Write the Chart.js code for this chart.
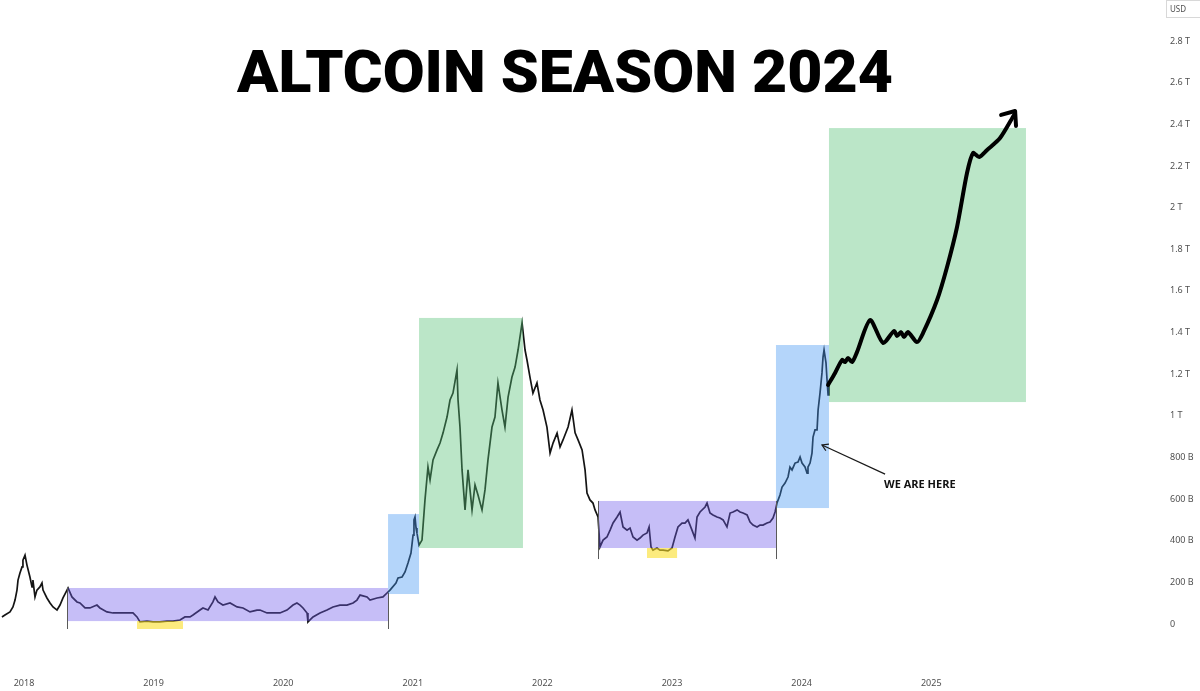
<!DOCTYPE html>
<html>
<head>
<meta charset="utf-8">
<script src="https://cdn.jsdelivr.net/npm/chart.js@4.4.1/dist/chart.umd.min.js"></script>
<style>
html,body{margin:0;padding:0;background:#fff;}
canvas{display:block;}
</style>
</head>
<body>
<canvas id="c" width="1200" height="691"></canvas>
<script>
// ---- Data (values in billions USD, x in decimal years) ----
const priceYears = [
2017.830,2017.853,2017.892,2017.915,2017.931,2017.946,2017.954,2017.969,2017.985,2017.992,
2018.008,2018.023,2018.046,2018.062,2018.069,2018.085,2018.100,2018.123,2018.139,2018.147,
2018.177,2018.201,2018.224,2018.255,2018.278,2018.301,2018.332,2018.340,2018.370,2018.409,
2018.432,2018.471,2018.509,2018.563,2018.586,2018.640,2018.687,2018.741,2018.795,2018.841,
2018.872,2018.895,2018.949,2018.995,2019.049,2019.103,2019.150,2019.204,2019.242,2019.281,
2019.304,2019.358,2019.381,2019.420,2019.458,2019.474,2019.497,2019.535,2019.590,2019.644,
2019.690,2019.744,2019.798,2019.821,2019.875,2019.921,2019.975,2020.029,2020.076,2020.106,
2020.130,2020.153,2020.184,2020.191,2020.230,2020.284,2020.338,2020.384,2020.438,2020.492,
2020.539,2020.569,2020.593,2020.647,2020.670,2020.724,2020.770,2020.801,2020.824,2020.870,
2020.886,2020.917,2020.940,2020.963,2020.986,2021.002,2021.009,2021.017,2021.025,2021.032,
2021.048,2021.071,2021.094,2021.117,2021.133,2021.156,2021.187,2021.210,2021.233,2021.264,
2021.287,2021.310,2021.341,2021.349,2021.364,2021.380,2021.403,2021.426,2021.457,2021.480,
2021.503,2021.534,2021.557,2021.580,2021.611,2021.634,2021.657,2021.688,2021.711,2021.735,
2021.765,2021.789,2021.812,2021.843,2021.866,2021.881,2021.904,2021.927,2021.958,2021.981,
2022.005,2022.035,2022.059,2022.082,2022.113,2022.136,2022.159,2022.198,2022.228,2022.252,
2022.275,2022.306,2022.329,2022.344,2022.367,2022.390,2022.406,2022.429,2022.444,2022.468,
2022.498,2022.522,2022.545,2022.576,2022.599,2022.622,2022.653,2022.676,2022.699,2022.730,
2022.753,2022.776,2022.807,2022.823,2022.838,2022.853,2022.884,2022.907,2022.931,2022.969,
2023.000,2023.023,2023.046,2023.077,2023.100,2023.123,2023.154,2023.177,2023.193,2023.216,
2023.255,2023.270,2023.293,2023.316,2023.347,2023.370,2023.394,2023.424,2023.448,2023.471,
2023.502,2023.525,2023.548,2023.579,2023.602,2023.625,2023.656,2023.679,2023.702,2023.733,
2023.756,2023.779,2023.795,2023.810,2023.833,2023.849,2023.872,2023.895,2023.910,2023.926,
2023.949,2023.972,2023.988,2024.003,2024.026,2024.042,2024.049,2024.065,2024.080,2024.088,
2024.103,2024.119,2024.127,2024.142,2024.157,2024.165,2024.173,2024.188,2024.196,2024.204,
2024.211
];
const priceVals = [
34,43,58,82,115,163,211,245,274,307,
331,283,226,178,211,130,163,178,197,163,
125,101,82,67,91,125,163,173,130,106,
101,77,77,91,77,58,53,53,53,53,
34,10,14,10,10,14,14,19,34,34,
43,67,77,67,106,130,106,91,101,82,
77,58,67,67,53,53,53,67,91,101,
91,77,53,10,34,53,67,82,91,91,
101,115,139,130,115,125,130,149,163,197,
221,226,250,293,341,427,500,514,461,437,
379,403,596,754,692,788,836,869,917,994,
1076,1109,1220,1076,946,740,548,740,548,668,
620,548,644,788,946,994,1158,1028,946,1090,
1186,1234,1316,1446,1316,1268,1186,1109,1158,1076,
1028,946,821,869,917,850,884,946,1028,918,
884,836,740,629,596,581,548,514,370,403,
418,451,485,514,538,466,451,461,418,403,
413,427,437,466,370,355,365,355,355,351,
365,418,466,485,485,500,451,413,514,538,
562,581,533,524,514,509,500,466,533,538,
548,538,533,524,490,475,466,475,475,485,
490,509,538,581,620,658,677,706,754,740,
773,778,802,773,754,725,754,773,821,898,
932,932,1028,1110,1206,1282,1316,1254,1172,1100,
1148
];
// Hand-drawn projection
const projYears = [2024.204,2024.258,2024.312,2024.335,2024.358,2024.389,2024.427,2024.528,2024.628,2024.713,
2024.736,2024.767,2024.790,2024.821,2024.890,2024.937,2025.045,2025.122,2025.199,2025.276,
2025.323,2025.369,2025.431,2025.531,2025.639];
const projVals = [1148,1206,1268,1258,1278,1258,1306,1460,1350,1407,
1383,1402,1378,1402,1354,1398,1556,1715,1907,2166,
2262,2243,2277,2334,2445];
const arrowYears = [2025.539,2025.647,2025.654];
const arrowVals = [2445,2464,2392];

// Axis ticks
const yearTicks = [2018,2019,2020,2021,2022,2023,2024,2025];
const valueTicks = [0,200,400,600,800,1000,1200,1400,1600,1800,2000,2200,2400,2600,2800];

// Zones
const zoneX0 = [2018.332,2018.872,2020.809,2021.048,2022.429,2022.807,2023.802,2024.211];
const zoneX1 = [2020.809,2019.227,2021.048,2021.850,2023.802,2023.039,2024.211,2025.731];
const zoneLow = [14,-24,144,365,365,317,557,1066];
const zoneHigh = [173,14,528,1470,591,365,1340,2382];
const zoneKind = ['range','bottom','breakout','season','range','bottom','breakout','season'];
// Date-range marker lines
const markerX = [2018.332,2020.809,2022.429,2023.802];
const markerTop = [173,149,591,591];
const markerBottom = [-24,-24,312,312];

// Annotation
const noteText = 'WE ARE HERE';
const noteFrom = [2024.644, 720];
const noteTip = [2024.157, 860];
const noteLabelPos = [2024.636, 668];
const titleText = 'ALTCOIN SEASON 2024';

// ---- Styles ----
const zoneColors = {
  range: 'rgba(112,92,235,0.40)',
  bottom: 'rgba(250,222,40,0.60)',
  breakout: 'rgba(68,150,242,0.40)',
  season: 'rgba(85,192,117,0.40)'
};

const PRICE_INDEX = 2;

const overlay = {
  id: 'overlay',
  afterDatasetDraw(chart, args) {
    if (args.index !== PRICE_INDEX) return;
    const {ctx, scales:{x, y}} = chart;
    ctx.save();
    for (let i = 0; i < zoneX0.length; i++) {
      const px0 = x.getPixelForValue(zoneX0[i]);
      const px1 = x.getPixelForValue(zoneX1[i]);
      const py0 = y.getPixelForValue(zoneHigh[i]);
      const py1 = y.getPixelForValue(zoneLow[i]);
      ctx.fillStyle = zoneColors[zoneKind[i]];
      ctx.fillRect(px0, py0, px1 - px0, py1 - py0);
    }
    ctx.strokeStyle = '#5a5a5a';
    ctx.lineWidth = 1;
    for (let i = 0; i < markerX.length; i++) {
      const px = Math.round(x.getPixelForValue(markerX[i])) + 0.5;
      ctx.beginPath();
      ctx.moveTo(px, y.getPixelForValue(markerTop[i]));
      ctx.lineTo(px, y.getPixelForValue(markerBottom[i]));
      ctx.stroke();
    }
    ctx.restore();
  },
  afterDraw(chart) {
    const {ctx, scales:{x, y}} = chart;
    ctx.save();
    ctx.fillStyle = '#000';
    ctx.font = '900 60px Roboto, "Liberation Sans", sans-serif';
    const w = ctx.measureText(titleText).width;
    ctx.translate(565, 92);
    ctx.scale(656 / w, 1);
    ctx.textAlign = 'center';
    ctx.textBaseline = 'alphabetic';
    ctx.fillText(titleText, 0, 0);
    ctx.restore();

    ctx.save();
    const fx = x.getPixelForValue(noteFrom[0]), fy = y.getPixelForValue(noteFrom[1]);
    const tx = x.getPixelForValue(noteTip[0]), ty = y.getPixelForValue(noteTip[1]);
    ctx.strokeStyle = '#1a1a1a';
    ctx.lineWidth = 1.2;
    ctx.beginPath();
    ctx.moveTo(fx, fy); ctx.lineTo(tx, ty); ctx.stroke();
    const ang = Math.atan2(fy - ty, fx - tx);
    const L = 7;
    ctx.beginPath();
    ctx.moveTo(tx + L * Math.cos(ang + 0.55), ty + L * Math.sin(ang + 0.55));
    ctx.lineTo(tx, ty);
    ctx.lineTo(tx + L * Math.cos(ang - 0.55), ty + L * Math.sin(ang - 0.55));
    ctx.stroke();
    ctx.fillStyle = '#111';
    ctx.font = '700 11px "Open Sans", "Noto Sans", sans-serif';
    ctx.textAlign = 'left';
    ctx.textBaseline = 'middle';
    ctx.fillText(noteText, x.getPixelForValue(noteLabelPos[0]), y.getPixelForValue(noteLabelPos[1]));
    ctx.restore();

    ctx.save();
    ctx.strokeStyle = '#d8d8d8';
    ctx.lineWidth = 1;
    ctx.strokeRect(1166.5, 0.5, 40, 17);
    ctx.fillStyle = '#505050';
    ctx.font = '8px "Noto Sans", "Open Sans", sans-serif';
    ctx.textAlign = 'left';
    ctx.textBaseline = 'middle';
    ctx.fillText('USD', 1170, 9.5);
    ctx.restore();
  }
};

const pricePts = priceYears.map((v, i) => ({x: v, y: priceVals[i]}));
const projPts = projYears.map((v, i) => ({x: v, y: projVals[i]}));
const arrowPts = arrowYears.map((v, i) => ({x: v, y: arrowVals[i]}));

const tickFont = {family: '"Noto Sans", "Open Sans", sans-serif', size: 9};
const noPad = s => { s.paddingTop = 0; s.paddingBottom = 0; s.paddingLeft = 0; s.paddingRight = 0; };

new Chart(document.getElementById('c'), {
  type: 'line',
  data: {
    datasets: [
      {data: projPts, borderColor: '#000', borderWidth: 4, pointRadius: 0, tension: 0.25,
       borderCapStyle: 'round', borderJoinStyle: 'round', fill: false},
      {data: arrowPts, borderColor: '#000', borderWidth: 4, pointRadius: 0, tension: 0,
       borderCapStyle: 'round', borderJoinStyle: 'round', fill: false},
      {data: pricePts, borderColor: '#141414', borderWidth: 1.7, pointRadius: 0, tension: 0, fill: false}
    ]
  },
  options: {
    responsive: false,
    animation: false,
    layout: {padding: 0},
    plugins: {legend: {display: false}, tooltip: {enabled: false}, title: {display: false}},
    scales: {
      x: {
        type: 'linear',
        min: 2017.815,
        max: 2026.765,
        grid: {display: false, drawTicks: false},
        border: {display: false},
        afterBuildTicks: s => { s.ticks = yearTicks.map(v => ({value: v})); },
        afterFit: s => { s.height = 23; noPad(s); },
        ticks: {font: tickFont, color: '#505050', padding: 10, maxRotation: 0, autoSkip: false,
                callback: v => String(v)}
      },
      y: {
        type: 'linear',
        position: 'right',
        min: -211.3,
        max: 2997.1,
        grid: {display: false, drawTicks: false},
        border: {display: false},
        afterBuildTicks: s => { s.ticks = valueTicks.map(v => ({value: v})); },
        afterFit: s => { s.width = 40; noPad(s); },
        ticks: {font: tickFont, color: '#505050', padding: 10, autoSkip: false,
                callback: v => v === 0 ? '0' : (v >= 1000 ? (v / 1000) + ' T' : v + ' B')}
      }
    }
  },
  plugins: [overlay]
});
</script>
</body>
</html>
